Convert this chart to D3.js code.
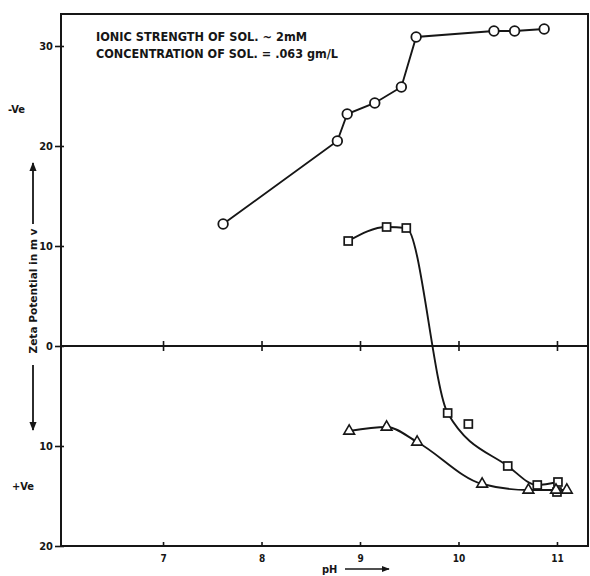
<!DOCTYPE html>
<html><head><meta charset="utf-8">
<script src="https://cdn.jsdelivr.net/npm/d3@7"></script>
<style>body{margin:0;background:#fff}</style>
</head><body>
<svg id="c" width="590" height="576"></svg>
<script>
// Data (zeta potential in mV, negative = -Ve region, drawn upward)
const circlePH   = [7.61, 8.77, 8.87, 9.15, 9.42, 9.57, 10.36, 10.57, 10.87];
const circleZeta = [-12.2, -20.5, -23.2, -24.3, -25.9, -30.9, -31.5, -31.5, -31.7];
const squarePH   = [8.88, 9.27, 9.47, 9.89, 10.10, 10.50, 10.80, 11.01, 11.00];
const squareZeta = [-10.5, -11.9, -11.8, 6.7, 7.8, 12.0, 13.9, 13.6, 14.6];
const squareOnCurve = [1, 1, 1, 1, 0, 1, 1, 1, 0];
const trianglePH   = [8.89, 9.27, 9.58, 10.24, 10.71, 10.99, 11.10];
const triangleZeta = [8.5, 8.1, 9.6, 13.8, 14.4, 14.4, 14.4];
const xTicks = [7, 8, 9, 10, 11];
const yTicks = [-30, -20, -10, 0, 10, 20];
const notes = ["IONIC STRENGTH OF SOL. ~ 2mM", "CONCENTRATION OF SOL. = .063 gm/L"];
const yTitle = "Zeta Potential in m v";
const xTitle = "pH";

const ink = "#161616";
const F = "'DejaVu Sans Condensed','DejaVu Sans',sans-serif";
const svg = d3.select("#c");

const x = d3.scaleLinear().domain([5.964, 11.315]).range([61, 588]);
const y = d3.scaleLinear().domain([-33.2, 20]).range([14, 546]);

const defs = svg.append("defs");
defs.append("marker").attr("id","ah").attr("viewBox","0 0 10 10").attr("refX",9).attr("refY",5)
  .attr("markerWidth",5).attr("markerHeight",5).attr("orient","auto")
  .append("path").attr("d","M0,1L10,5L0,9z").attr("fill",ink);

// frame
svg.append("rect").attr("x", x.range()[0]).attr("y", y.range()[0])
  .attr("width", x.range()[1]-x.range()[0]).attr("height", y.range()[1]-y.range()[0])
  .attr("fill","none").attr("stroke",ink).attr("stroke-width",2);

// left axis
const ya = svg.append("g").attr("transform",`translate(${x.range()[0]},0)`)
  .call(d3.axisLeft(y).tickValues(yTicks).tickFormat(d=>Math.abs(d)).tickSizeInner(5).tickSizeOuter(0).tickPadding(3));
ya.select(".domain").remove();
ya.selectAll(".tick line").attr("x1",-6).attr("x2",3).attr("stroke",ink).attr("stroke-width",1.6);
ya.selectAll(".tick text").attr("font-family",F).attr("font-weight","bold").attr("font-size",11).attr("fill",ink);

// bottom axis
const xa = svg.append("g").attr("transform",`translate(0,${y.range()[1]})`)
  .call(d3.axisBottom(x).tickValues(xTicks).tickFormat(d3.format("d")).tickSizeInner(4).tickSizeOuter(0).tickPadding(5));
xa.select(".domain").remove();
xa.selectAll(".tick line").attr("y1",-4).attr("y2",1).attr("stroke",ink).attr("stroke-width",1.6);
xa.selectAll(".tick text").attr("font-family",F).attr("font-weight","bold").attr("font-size",10).attr("fill",ink);

// zero line with crossing ticks
const za = svg.append("g").attr("transform",`translate(0,${y(0)})`)
  .call(d3.axisBottom(x).tickValues(xTicks).tickFormat("").tickSizeOuter(0));
za.select(".domain").attr("d",`M${x.range()[0]},0H${x.range()[1]}`).attr("stroke",ink).attr("stroke-width",1.8);
za.selectAll(".tick line").attr("y1",-5).attr("y2",5).attr("stroke",ink).attr("stroke-width",1.6);

// series
const circles = circlePH.map((p,i)=>({p, z:circleZeta[i]}));
const squares = squarePH.map((p,i)=>({p, z:squareZeta[i], on:squareOnCurve[i]}));
const tris = trianglePH.map((p,i)=>({p, z:triangleZeta[i]}));

const lineLin = d3.line().x(d=>x(d.p)).y(d=>y(d.z));
const lineMono = d3.line().x(d=>x(d.p)).y(d=>y(d.z)).curve(d3.curveMonotoneX);

svg.append("path").attr("d", lineLin(circles)).attr("fill","none").attr("stroke",ink).attr("stroke-width",1.9);
svg.append("path").attr("d", lineMono(squares.filter(d=>d.on))).attr("fill","none").attr("stroke",ink).attr("stroke-width",1.9);
svg.append("path").attr("d", lineMono(tris)).attr("fill","none").attr("stroke",ink).attr("stroke-width",1.9);

svg.selectAll(".ci").data(circles).join("circle").attr("cx",d=>x(d.p)).attr("cy",d=>y(d.z)).attr("r",4.8)
  .attr("fill","#fff").attr("stroke",ink).attr("stroke-width",1.8);
svg.selectAll(".sq").data(squares).join("rect").attr("x",d=>x(d.p)-4).attr("y",d=>y(d.z)-4).attr("width",8).attr("height",8)
  .attr("fill","#fff").attr("stroke",ink).attr("stroke-width",1.7);
const tri = d3.symbol().type(d3.symbolTriangle).size(50);
svg.selectAll(".tr").data(tris).join("path").attr("d",tri).attr("transform",d=>`translate(${x(d.p)},${y(d.z)})`)
  .attr("fill","#fff").attr("stroke",ink).attr("stroke-width",1.6);

// notes
const nl = [211, 242];
notes.forEach((t,i)=>{
  svg.append("text").attr("x",96).attr("y",41+i*17).text(t).attr("font-family",F).attr("font-weight","bold")
    .attr("font-size",12).attr("fill",ink).attr("textLength",nl[i]).attr("lengthAdjust","spacingAndGlyphs");
});

// y title and arrows
svg.append("text").attr("transform","translate(37,291) rotate(-90)").attr("text-anchor","middle").text(yTitle)
  .attr("font-family",F).attr("font-weight","bold").attr("font-size",10.5).attr("fill",ink)
  .attr("textLength",125).attr("lengthAdjust","spacingAndGlyphs");
svg.append("line").attr("x1",33).attr("y1",224).attr("x2",33).attr("y2",163).attr("stroke",ink).attr("stroke-width",1.8).attr("marker-end","url(#ah)");
svg.append("line").attr("x1",33).attr("y1",365).attr("x2",33).attr("y2",430).attr("stroke",ink).attr("stroke-width",1.8).attr("marker-end","url(#ah)");
svg.append("text").attr("x",8).attr("y",113).text("-Ve").attr("font-family",F).attr("font-weight","bold").attr("font-size",11).attr("fill",ink);
svg.append("text").attr("x",12).attr("y",490).text("+Ve").attr("font-family",F).attr("font-weight","bold").attr("font-size",11).attr("fill",ink);

// x title and arrow
svg.append("text").attr("x",322).attr("y",573).text(xTitle).attr("font-family",F).attr("font-weight","bold").attr("font-size",11).attr("fill",ink);
svg.append("line").attr("x1",345).attr("y1",569).attr("x2",389).attr("y2",569).attr("stroke",ink).attr("stroke-width",1.6).attr("marker-end","url(#ah)");
</script>
</body></html>
